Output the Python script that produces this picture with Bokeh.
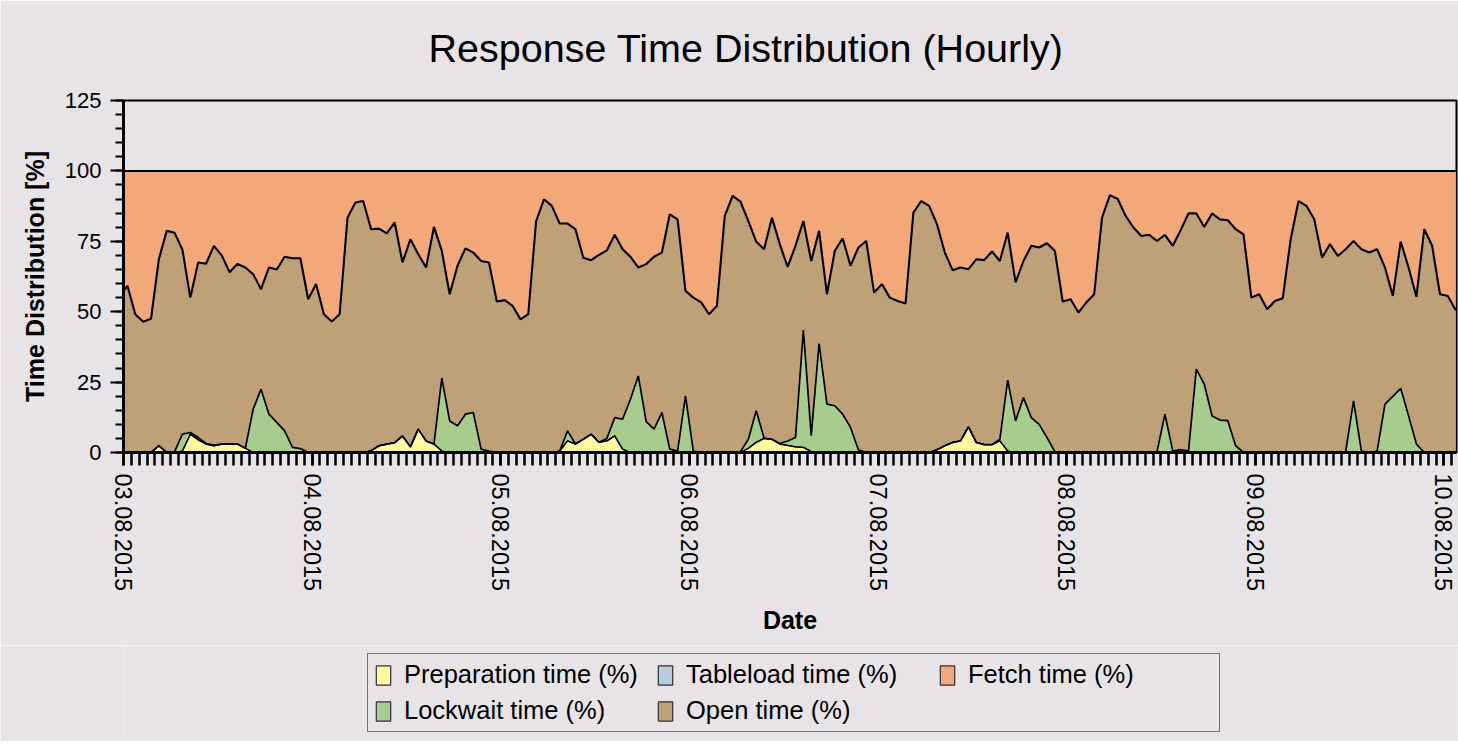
from bokeh.plotting import figure
from bokeh.layouts import column
from bokeh.models import (ColumnDataSource, FixedTicker, Legend, LegendItem,
                          Range1d, Title)
from bokeh.embed import file_html
from bokeh.resources import INLINE

# ------------- data (hourly, 02.08.2015 23:00 .. 10.08.2015 01:00) -------------
# hour index relative to 03.08.2015 00:00; the first (-1) hour is mostly clipped
day_labels = ["03.08.2015", "04.08.2015", "05.08.2015", "06.08.2015",
              "07.08.2015", "08.08.2015", "09.08.2015", "10.08.2015"]
series_names = ["Preparation time (%)", "Tableload time (%)", "Fetch time (%)",
                "Lockwait time (%)", "Open time (%)"]
hours = list(range(-1, 170))

prep = [
    0,
    0, 0, 0, 0, 2.4, 0, 0, 0.5, 6.5, 4.5,
    3.0, 2.4, 3.0, 3.0, 3.0, 1.5, 0, 0, 0, 0,
    0, 0, 0, 0, 0, 0, 0, 0, 0, 0,
    0, 0.6, 2.4, 3.0, 3.5, 5.9, 2.0, 8.3, 4.1, 3.0,
    0.5, 0, 0, 0, 0, 0, 0, 0, 0, 0,
    0, 0, 0, 0, 0, 0.5, 4.1, 3.0, 4.7, 6.5,
    3.6, 4.1, 5.9, 1.2, 0, 0, 0, 0, 0, 0,
    0, 0, 0, 0, 0, 0, 0, 0, 0, 1.5,
    3.6, 5.0, 4.7, 3.0, 2.5, 2.0, 1.8, 0.3, 0, 0,
    0, 0, 0, 0, 0, 0, 0, 0, 0, 0,
    0, 0, 0, 1.0, 2.4, 3.6, 4.1, 9.1, 3.6, 2.8,
    2.8, 4.1, 0.5, 0, 0, 0, 0, 0, 0, 0,
    0, 0, 0, 0, 0, 0, 0, 0, 0, 0,
    0, 0, 0, 0, 1.0, 0, 0, 0, 0, 0,
    0, 0, 0, 0, 0, 0, 0, 0, 0, 0,
    0, 0, 0, 0, 0, 0, 0, 0, 0, 0,
    0, 0, 0, 0, 0, 0, 0, 0, 0, 0,
]

tableload = [
    0,
    0, 0, 0, 0, 0, 0, 0, 0, 0, 0,
    0, 0, 0, 0, 0, 0, 0, 0, 0, 0,
    0, 0, 0, 0, 0, 0, 0, 0, 0, 0,
    0, 0, 0, 0, 0, 0, 0, 0, 0, 0,
    0, 0, 0, 0, 0, 0, 0, 0, 0, 0,
    0, 0, 0, 0, 0, 0, 0, 0, 0, 0,
    0, 0, 0, 0, 0, 0, 0, 0, 0, 0,
    0, 0, 0, 0, 0, 0, 0, 0, 0, 0,
    0, 0, 0, 0, 0, 0, 0, 0, 0, 0,
    0, 0, 0, 0, 0, 0, 0, 0, 0, 0,
    0, 0, 0, 0, 0, 0, 0, 0, 0, 0,
    0, 0, 0, 0, 0, 0, 0, 0, 0, 0,
    0, 0, 0, 0, 0, 0, 0, 0, 0, 0,
    0, 0, 0, 0, 0, 0, 0, 0, 0, 0,
    0, 0, 0, 0, 0, 0, 0, 0, 0, 0,
    0, 0, 0, 0, 0, 0, 0, 0, 0, 0,
    0, 0, 0, 0, 0, 0, 0, 0, 0, 0,
]

lockwait = [
    0,
    0, 0, 0, 0, 0, 0, 0.3, 6.0, 0.6, 0.8,
    0.2, 0.2, 0, 0, 0, 0, 15.4, 22.5, 13.6, 10.7,
    7.7, 1.8, 1.4, 0, 0, 0, 0, 0, 0, 0,
    0, 0, 0, 0, 0, 0, 0, 0, 0, 0,
    25.9, 11.2, 9.5, 13.6, 14.2, 1.2, 0.5, 0, 0, 0,
    0, 0, 0, 0, 0, 0, 3.6, 0, 0, 0,
    0, 0.9, 6.5, 10.6, 18.9, 27.2, 11.0, 8.3, 14.2, 1.2,
    0.5, 20.1, 0.5, 0, 0, 0, 0, 0, 0.3, 3.2,
    11.2, 0.1, 0, 0.2, 1.6, 3.3, 41.7, 5.7, 38.7, 17.2,
    16.6, 13.6, 8.9, 1.0, 0, 0, 0, 0, 0, 0,
    0, 0, 0, 0, 0, 0, 0, 0, 0, 0,
    0, 0.6, 25.2, 11.2, 19.5, 12.4, 10.0, 5.3, 0.3, 0,
    0, 0, 0, 0, 0, 0, 0, 0, 0, 0,
    0, 0.3, 13.6, 0.5, 0, 0.5, 29.6, 24.3, 13.0, 11.5,
    11.3, 2.4, 0, 0, 0, 0, 0, 0, 0, 0,
    0, 0, 0, 0, 0, 0.3, 18.3, 0.5, 0, 0.5,
    17.2, 19.9, 22.8, 13.0, 3.0, 0, 0, 0, 0, 0,
]

open_time = [
    55.6,
    59.2, 49.1, 46.4, 47.5, 66.2, 78.7, 77.7, 65.5, 47.9, 62.2,
    63.8, 70.8, 67.0, 61.0, 64.0, 64.2, 47.9, 35.5, 52.1, 54.3,
    61.8, 67.2, 67.6, 54.4, 59.8, 49.1, 46.5, 49.1, 83.4, 88.8,
    89.3, 78.7, 77.1, 74.8, 78.2, 61.6, 73.7, 62.1, 61.6, 77.1,
    45.2, 45.0, 56.8, 58.9, 56.8, 66.8, 67.0, 53.6, 54.1, 52.1,
    47.3, 49.1, 82.2, 89.9, 87.6, 80.8, 73.6, 76.3, 64.5, 61.8,
    66.6, 66.8, 64.9, 60.4, 50.6, 38.5, 55.9, 61.2, 56.8, 83.4,
    82.3, 37.3, 54.5, 53.3, 49.1, 52.1, 84.0, 91.1, 88.8, 77.5,
    60.1, 67.1, 78.7, 70.8, 61.8, 68.1, 38.7, 62.0, 40.0, 39.0,
    55.0, 62.5, 57.4, 71.8, 75.1, 56.8, 59.8, 55.0, 53.8, 52.9,
    85.2, 89.3, 87.6, 80.1, 68.6, 61.1, 61.6, 56.0, 65.0, 65.5,
    68.6, 63.3, 52.4, 49.2, 48.5, 61.0, 62.8, 69.0, 71.3, 53.6,
    54.4, 49.7, 53.3, 56.2, 83.4, 91.4, 90.0, 84.0, 79.9, 76.9,
    77.3, 74.8, 63.7, 72.9, 77.9, 84.4, 55.3, 55.8, 71.9, 71.3,
    71.2, 76.9, 77.5, 55.0, 56.2, 50.9, 53.8, 54.8, 75.7, 89.3,
    87.6, 82.8, 69.2, 74.0, 69.8, 71.9, 56.8, 71.7, 71.0, 71.7,
    48.5, 35.7, 52.1, 52.7, 52.3, 79.3, 73.4, 56.2, 55.6, 50.5,
]

fetch = [
    44.4,
    40.8, 50.9, 53.6, 52.5, 31.4, 21.3, 22.0, 28.0, 45.0, 32.5,
    33.0, 26.6, 30.0, 36.0, 33.0, 34.3, 36.7, 42.0, 34.3, 35.0,
    30.5, 31.0, 31.0, 45.6, 40.2, 50.9, 53.5, 50.9, 16.6, 11.2,
    10.7, 20.7, 20.5, 22.2, 18.3, 32.5, 24.3, 29.6, 34.3, 19.9,
    28.4, 43.8, 33.7, 27.5, 29.0, 32.0, 32.5, 46.4, 45.9, 47.9,
    52.7, 50.9, 17.8, 10.1, 12.4, 18.7, 18.7, 20.7, 30.8, 31.7,
    29.8, 28.2, 22.7, 27.8, 30.5, 34.3, 33.1, 30.5, 29.0, 15.4,
    17.2, 42.6, 45.0, 46.7, 50.9, 47.9, 16.0, 8.9, 10.9, 17.8,
    25.1, 27.8, 16.6, 26.0, 34.1, 26.6, 17.8, 32.0, 21.3, 43.8,
    28.4, 23.9, 33.7, 27.2, 24.9, 43.2, 40.2, 45.0, 46.2, 47.1,
    14.8, 10.7, 12.4, 18.9, 29.0, 35.3, 34.3, 34.9, 31.4, 31.7,
    28.6, 32.0, 21.9, 39.6, 32.0, 26.6, 27.2, 25.7, 28.4, 46.4,
    45.6, 50.3, 46.7, 43.8, 16.6, 8.6, 10.0, 16.0, 20.1, 23.1,
    22.7, 24.9, 22.7, 26.6, 21.1, 15.1, 15.1, 19.9, 15.1, 17.2,
    17.5, 20.7, 22.5, 45.0, 43.8, 49.1, 46.2, 45.2, 24.3, 10.7,
    12.4, 17.2, 30.8, 26.0, 30.2, 27.8, 24.9, 27.8, 29.0, 27.8,
    34.3, 44.4, 25.1, 34.3, 44.7, 20.7, 26.6, 43.8, 44.4, 49.5,
]

# ---------------- styling ----------------
BG = "#e7e3e7"
C_PREP = "#fff9a2"
C_TABLE = "#b6cbdc"
C_LOCK = "#a7cc8d"
C_OPEN = "#bfa177"
C_FETCH = "#f2a878"
FONT = "Liberation Sans"

src = ColumnDataSource(dict(
    x=[h + 0.5 for h in hours],  # hourly periods plotted at mid-hour
    prep=prep, tableload=tableload, lockwait=lockwait,
    open_time=open_time, fetch=fetch,
))

stack_cols = ["prep", "tableload", "lockwait", "open_time", "fetch"]
stack_colors = [C_PREP, C_TABLE, C_LOCK, C_OPEN, C_FETCH]
color_of = dict(zip(stack_cols, stack_colors))

# ================= main chart =================
fig = figure(width=1458, height=645, output_backend="svg", toolbar_location=None,
             x_range=Range1d(0, 169.6), y_range=Range1d(0, 125),
             min_border_left=123, min_border_right=2, min_border_top=100,
             min_border_bottom=193,
             background_fill_color=BG, border_fill_color=BG,
             outline_line_color="black", outline_line_width=2)

fig.title = Title(text="Response Time Distribution (Hourly)", align="left",
                  offset=305, text_font=FONT, text_font_size="39.5px",
                  text_font_style="normal", text_color="black",
                  padding=dict(left=0, right=0, top=0, bottom=26))

fig.varea_stack(stackers=stack_cols, x="x", color=stack_colors, source=src)
fig.vline_stack(stackers=stack_cols, x="x", source=src, line_color="black",
                line_width=[1.3, 1.3, 1.7, 2.1, 2.0])

fig.xgrid.visible = False
fig.ygrid.visible = False

xa = fig.xaxis[0]
xa.ticker = FixedTicker(ticks=[24 * i for i in range(len(day_labels))],
                        minor_ticks=hours)
xa.major_label_overrides = {24 * i: lab for i, lab in enumerate(day_labels)}
xa.major_label_orientation = "vertical"
xa.axis_label = "Date"
xa.axis_line_width = 3
xa.axis_line_color = "black"
xa.major_tick_out = 13
xa.major_tick_in = 0
xa.minor_tick_out = 13
xa.minor_tick_in = 0
xa.major_tick_line_width = 2.5
xa.minor_tick_line_width = 2.5
xa.major_tick_line_color = "black"
xa.minor_tick_line_color = "black"
xa.major_label_standoff = 8
xa.axis_label_standoff = 12
xa.major_label_text_font_size = "23.5px"

ya = fig.yaxis[0]
ya.ticker = FixedTicker(ticks=[0, 25, 50, 75, 100, 125],
                        minor_ticks=list(range(0, 126, 5)))
ya.axis_label = "Time Distribution [%]"
ya.axis_line_width = 3
ya.axis_line_color = "black"
ya.major_tick_out = 13
ya.major_tick_in = 0
ya.minor_tick_out = 8
ya.minor_tick_in = 0
ya.major_tick_line_width = 2
ya.minor_tick_line_width = 2
ya.major_tick_line_color = "black"
ya.minor_tick_line_color = "black"
ya.major_label_standoff = 9
ya.axis_label_standoff = 13
ya.major_label_text_font_size = "22px"

for ax in (xa, ya):
    ax.major_label_text_font = FONT
    ax.major_label_text_color = "black"
    ax.axis_label_text_font = FONT
    ax.axis_label_text_font_size = "25px"
    ax.axis_label_text_font_style = "bold"
    ax.axis_label_text_color = "black"

# ================= legend strip =================
leg_fig = figure(width=1458, height=96, output_backend="svg", toolbar_location=None,
                 x_range=Range1d(0, 169.6), y_range=Range1d(1, 2),
                 x_axis_type=None, y_axis_type=None,
                 min_border_left=123, min_border_right=2,
                 min_border_top=0, min_border_bottom=0,
                 background_fill_color=BG, border_fill_color=BG,
                 outline_line_color=None)
leg_fig.xgrid.visible = False
leg_fig.ygrid.visible = False

legend_cols = ["prep", "tableload", "fetch", "lockwait", "open_time"]
items = []
for name, col in zip(series_names, legend_cols):
    # zero-height quads (outside this strip's y range) only provide bordered swatches
    sw = leg_fig.quad(left="x", right="x", bottom=0, top=0, source=src,
                      fill_color=color_of[col], line_color="#303030", line_width=1.2)
    items.append(LegendItem(label=name, renderers=[sw]))

legend = Legend(items=items, orientation="horizontal", ncols=3,
                location=(244, 9),
                glyph_width=18, glyph_height=24, label_standoff=12,
                label_width=245, spacing=7, padding=6, margin=0,
                border_line_color="black", border_line_width=1.5,
                background_fill_color=BG, background_fill_alpha=1.0,
                label_text_font=FONT, label_text_font_size="25.5px",
                label_text_color="black")
leg_fig.add_layout(legend)

p = column(fig, leg_fig, spacing=0)

open("out.html", "w").write(file_html(p, INLINE))
